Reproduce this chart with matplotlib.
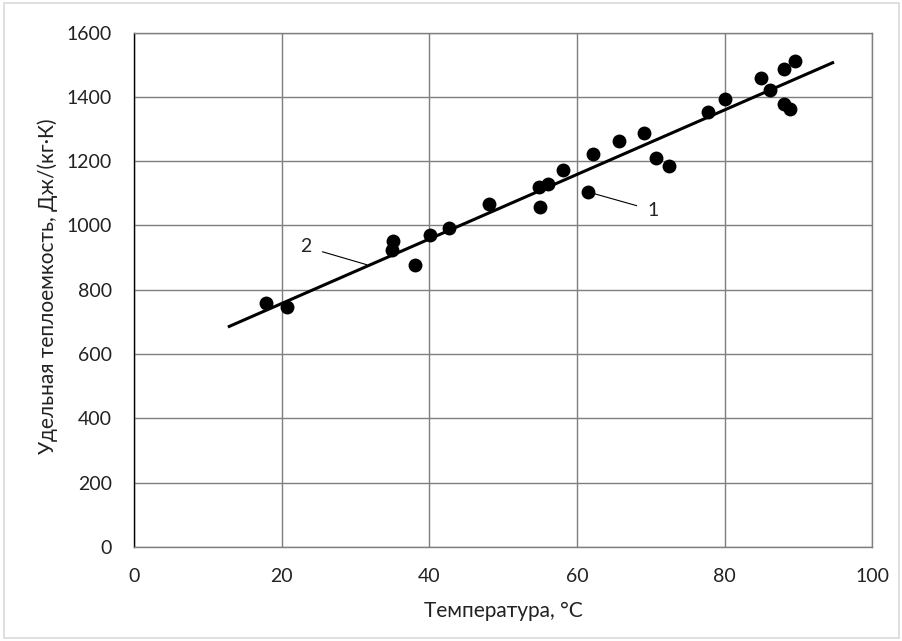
import matplotlib
matplotlib.use("Agg")
import matplotlib.pyplot as plt
from matplotlib.patches import Rectangle

plt.rcParams['font.family'] = ['Lato', 'DejaVu Sans']

temp = [17.9, 20.7, 35.1, 35.0, 38.0, 40.1, 42.7, 48.1, 54.9, 56.0, 55.0, 58.1,
        61.5, 62.1, 65.7, 69.0, 70.7, 72.4, 77.7, 80.0, 84.9, 86.1, 88.0, 89.5,
        88.0, 88.8]
heat = [759, 746, 951, 923, 876, 971, 992, 1068, 1119, 1130, 1057, 1171,
        1104, 1223, 1262, 1288, 1211, 1184, 1354, 1394, 1458, 1422, 1485, 1511,
        1378, 1361]
fit_t = [12.9, 94.6]
fit_c = [686, 1506]
xticks = [0, 20, 40, 60, 80, 100]
yticks = [0, 200, 400, 600, 800, 1000, 1200, 1400, 1600]

W, H = 903, 641
fig = plt.figure(figsize=(W / 100, H / 100), dpi=100)
fig.patches.append(Rectangle((0.004, 0.004), 0.992, 0.992, transform=fig.transFigure,
                             fill=False, edgecolor='#d9d9d9', linewidth=1.2))
ax = fig.add_axes([134 / W, 1 - 547 / H, (872.5 - 134) / W, (547 - 32.5) / H])

ax.set_xlim(0, 100)
ax.set_ylim(0, 1600)
ax.set_xticks(xticks)
ax.set_yticks(yticks)
ax.grid(True, color='#7f7f7f', linewidth=1.0)
ax.set_axisbelow(True)
for s in ax.spines.values():
    s.set_color('#7f7f7f')
    s.set_linewidth(1.0)
ax.spines['left'].set_color('black')
ax.tick_params(axis='y', length=0, labelsize=14, pad=16, colors='#222222')
ax.tick_params(axis='x', length=0, labelsize=14, pad=15, colors='#222222')

ax.plot(fit_t, fit_c, color='black', linewidth=2.2, zorder=3)
ax.scatter(temp, heat, s=100, color='black', zorder=4, linewidths=0)

ax.annotate('1', xy=(61.5, 1104), xytext=(70.3, 1047), fontsize=14,
            ha='center', va='center', color='#222222',
            arrowprops=dict(arrowstyle='-', color='black', lw=0.8,
                            shrinkA=6, shrinkB=0))
ax.annotate('2', xy=(31.5, 878), xytext=(23.3, 933), fontsize=14,
            ha='center', va='center', color='#222222',
            arrowprops=dict(arrowstyle='-', color='black', lw=0.8,
                            shrinkA=6, shrinkB=0))

fig.text(503.4 / W, 1 - 617 / H, 'Температура, °C', fontsize=15,
         ha='center', va='baseline', color='#222222')
fig.text(48 / W, 1 - 286.5 / H, 'Удельная теплоемкость, Дж/(кг·К)', fontsize=15,
         ha='center', va='center', rotation=90, color='#222222')

fig.savefig('out.png', dpi=100)
